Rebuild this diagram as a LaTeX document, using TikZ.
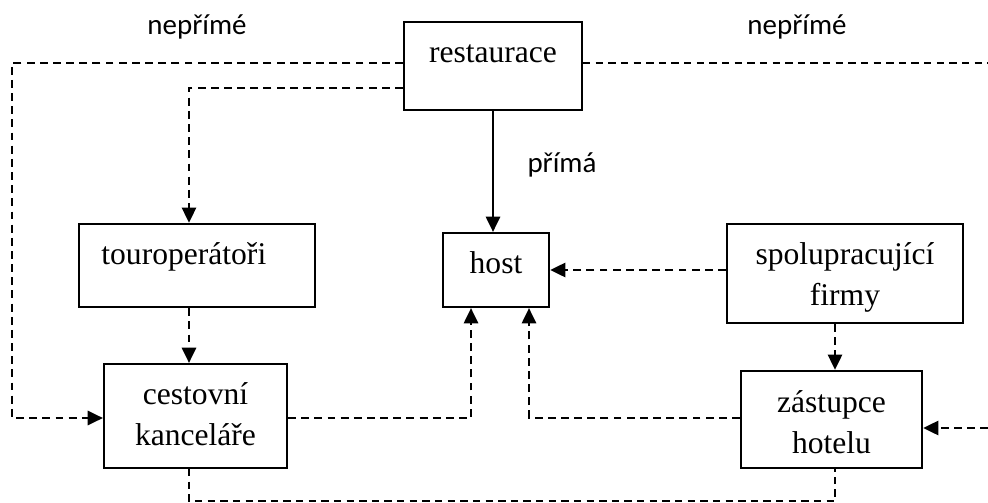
\documentclass[tikz,border=0pt]{standalone}
\usepackage{fontspec}
\setmainfont{Liberation Serif}
\newfontfamily\popisfont{Carlito}
\usetikzlibrary{arrows.meta}
\begin{document}
\begin{tikzpicture}[x=0.38pt,y=-0.38pt]
\tikzset{
    ramecek/.style={draw, line width=0.85pt, inner sep=0pt, align=center, font=\fontsize{12}{15.6}\selectfont},
    popisek/.style={text centered, font=\popisfont\fontsize{11}{13}\selectfont},
    cara/.style={line width=0.85pt, dash pattern=on 3pt off 2pt},
    tenka/.style={line width=0.55pt, dash pattern=on 2.8pt off 2pt},
    sipka/.style={cara, -{Triangle[length=5.8pt,width=5.4pt]}}
}
\useasboundingbox (0,0) rectangle (988,502);
\node[ramecek, minimum width=67.6pt, text height=15.2pt, text depth=18.2pt] (restaurace) at (493,66) {restaurace};
\node[ramecek, minimum width=89.7pt, text height=15.6pt, text depth=16pt] (touroperatori) at (197,265.5) {touroperátoři\hspace*{10pt}};
\node[ramecek, minimum width=40.3pt, text height=15.2pt, text depth=12.9pt] (host) at (496,270) {host};
\node[ramecek, minimum width=89.7pt, text height=30.8pt, text depth=6.8pt] (firmy) at (845,273.5) {spolupracující\\firmy};
\node[ramecek, minimum width=69.5pt, text height=30.8pt, text depth=8.7pt] (cestovni) at (195.5,416) {cestovní\\kanceláře};
\node[ramecek, minimum width=68.8pt, text height=31.2pt, text depth=5.7pt] (zastupce) at (831.5,419.5) {zástupce\\hotelu};
\node[popisek] (neprime1) at (197,27) {nepřímé};
\node[popisek] (neprime2) at (797,27) {nepřímé};
\node[popisek] (prima) at (562,165) {přímá};
\coordinate (k1) at (12,63);
\coordinate (k2) at (189,88);
\coordinate (k3) at (471,418);
\coordinate (k4) at (529,418);
\coordinate (k5) at (189,501);
\coordinate (k6) at (835,501);
\coordinate (pravy1) at (988,63);
\coordinate (pravy2) at (988,428);
\draw[sipka] (restaurace.west |- k1) -- (k1) |- (cestovni.west |- k3);
\draw[sipka] (restaurace.west |- k2) -- (k2) -- (k2 |- touroperatori.north);
\draw[sipka] (touroperatori.south -| k2) -- (cestovni.north -| k2);
\draw[line width=0.85pt, -{Triangle[length=5.8pt,width=5.4pt]}] (restaurace.south) -- (restaurace.south |- host.north);
\draw[tenka] (restaurace.east |- pravy1) -- (pravy1);
\draw[sipka] (firmy.west |- host.east) -- (host.east);
\draw[sipka] (firmy.south -| k6) -- (zastupce.north -| k6);
\draw[sipka] (cestovni.east |- k3) -- (k3) -- (k3 |- host.south);
\draw[sipka] (zastupce.west |- k4) -- (k4) -- (k4 |- host.south);
\draw[sipka] (pravy2) -- (zastupce.east |- pravy2);
\draw[tenka] (cestovni.south -| k5) -- (k5) -- (k6) -- (zastupce.south -| k6);
\end{tikzpicture}
\end{document}
